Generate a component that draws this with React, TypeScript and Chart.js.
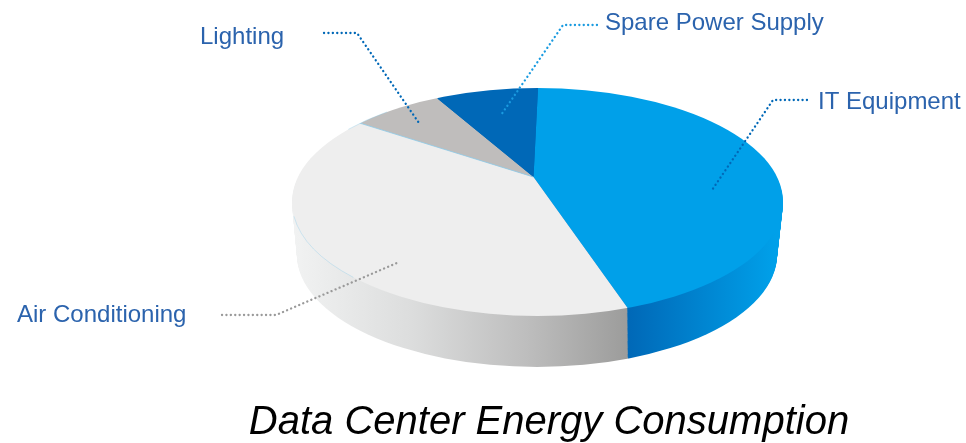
import React, { useEffect, useRef } from "react";
import { Chart, registerables } from "chart.js";

Chart.register(...registerables);

const categories = ["IT Equipment", "Air Conditioning", "Lighting", "Spare Power Supply"];
const shares = [44.5, 39.5, 7.4, 8.6];
const faceColors = ["#00a0e9", "#eeeeee", "#bfbdbc", "#0068b7"];
const chartTitle = "Data Center Energy Consumption";
const startRotation = 1.35;

// Projection of the disc onto the page
const APEX = { x: 533.5, y: 177 };
const TOP = { cx: 537.5, cy: 202, rx: 245.5, ry: 114 };
const BOTTOM = { cx: 537, cy: 255, rx: 240, ry: 112 };
const SQUASH = TOP.ry / TOP.rx;
const COVER_RADIUS = 320;

const callouts = [
  { text: categories[0], tx: 818, ty: 109, color: "#0068b7", path: [[807, 100], [773, 100], [712, 190]] },
  { text: categories[1], tx: 17, ty: 322, color: "#9a9a9a", path: [[222, 315], [276, 315], [397, 263]] },
  { text: categories[2], tx: 200, ty: 44, color: "#0068b7", path: [[324, 33], [357, 33], [419, 123]] },
  { text: categories[3], tx: 605, ty: 30, color: "#1a9be0", path: [[597, 25], [563, 25], [501, 115]] },
];

function applyProjection(ctx: CanvasRenderingContext2D, arc: any, dx: number, dy: number) {
  const s = COVER_RADIUS / arc.outerRadius;
  ctx.translate(APEX.x + dx, APEX.y + dy);
  ctx.scale(s, s * SQUASH);
  ctx.translate(-arc.x, -arc.y);
}

const pie3d = {
  id: "pie3d",
  beforeDatasetsDraw(chart: any) {
    const ctx: CanvasRenderingContext2D = chart.ctx;
    const arcs = chart.getDatasetMeta(0).data;
    const grayGrad = ctx.createLinearGradient(295, 0, 628, 0);
    grayGrad.addColorStop(0, "#f1f2f2");
    grayGrad.addColorStop(0.35, "#dcdddd");
    grayGrad.addColorStop(0.7, "#bdbdbd");
    grayGrad.addColorStop(1, "#9c9c9b");
    const blueGrad = ctx.createLinearGradient(628, 0, 775, 0);
    blueGrad.addColorStop(0, "#0068b7");
    blueGrad.addColorStop(0.5, "#0084d0");
    blueGrad.addColorStop(1, "#00a0e9");
    const sideFill = [blueGrad, grayGrad, grayGrad, blueGrad];
    const depth = BOTTOM.cy - TOP.cy;
    for (let d = depth; d >= 1; d--) {
      const t = d / depth;
      ctx.save();
      ctx.beginPath();
      ctx.ellipse(
        TOP.cx + (BOTTOM.cx - TOP.cx) * t,
        TOP.cy + (BOTTOM.cy - TOP.cy) * t,
        TOP.rx + (BOTTOM.rx - TOP.rx) * t,
        TOP.ry + (BOTTOM.ry - TOP.ry) * t,
        0, 0, Math.PI * 2
      );
      ctx.clip();
      arcs.forEach((arc: any, i: number) => {
        ctx.save();
        applyProjection(ctx, arc, t * 2.2, d);
        ctx.beginPath();
        ctx.moveTo(arc.x, arc.y);
        ctx.arc(arc.x, arc.y, arc.outerRadius, arc.startAngle, arc.endAngle);
        ctx.closePath();
        ctx.restore();
        ctx.fillStyle = sideFill[i];
        ctx.fill();
      });
      ctx.restore();
    }
    ctx.save();
    ctx.beginPath();
    ctx.ellipse(TOP.cx, TOP.cy, TOP.rx, TOP.ry, 0, 0, Math.PI * 2);
    ctx.clip();
    applyProjection(ctx, arcs[0], 0, 0);
  },
  afterDatasetsDraw(chart: any) {
    const ctx: CanvasRenderingContext2D = chart.ctx;
    const arcs = chart.getDatasetMeta(0).data;
    ctx.restore();
    // fine light-blue seams of the original artwork
    const seam = arcs[2];
    ctx.save();
    ctx.beginPath();
    ctx.ellipse(TOP.cx, TOP.cy, TOP.rx, TOP.ry, 0, 0, Math.PI * 2);
    ctx.clip();
    ctx.save();
    applyProjection(ctx, seam, 0, 0);
    ctx.beginPath();
    ctx.moveTo(seam.x, seam.y);
    ctx.lineTo(
      seam.x + Math.cos(seam.startAngle) * seam.outerRadius,
      seam.y + Math.sin(seam.startAngle) * seam.outerRadius
    );
    ctx.restore();
    ctx.strokeStyle = "#8ecbea";
    ctx.lineWidth = 0.8;
    ctx.stroke();
    ctx.restore();
    ctx.strokeStyle = "rgba(130,200,235,0.55)";
    ctx.lineWidth = 0.6;
    ctx.beginPath();
    ctx.ellipse(TOP.cx, TOP.cy, TOP.rx, TOP.ry, 0, Math.PI * 0.77, Math.PI * 0.96);
    ctx.stroke();
    ctx.beginPath();
    ctx.ellipse(TOP.cx, TOP.cy, TOP.rx, TOP.ry, 0, Math.PI * 1.22, Math.PI * 1.29);
    ctx.stroke();
    // callouts
    callouts.forEach((c) => {
      ctx.save();
      ctx.strokeStyle = c.color;
      ctx.lineWidth = 2.3;
      ctx.lineCap = "round";
      ctx.setLineDash([0.1, 4.3]);
      ctx.beginPath();
      c.path.forEach(([x, y], i) => (i ? ctx.lineTo(x, y) : ctx.moveTo(x, y)));
      ctx.stroke();
      ctx.restore();
      ctx.save();
      ctx.font = "24px 'Liberation Sans'";
      ctx.fillStyle = "#2b63ad";
      ctx.textBaseline = "alphabetic";
      ctx.textAlign = "left";
      ctx.fillText(c.text, c.tx, c.ty);
      ctx.restore();
    });
  },
};

export default function App() {
  const ref = useRef<HTMLCanvasElement | null>(null);
  useEffect(() => {
    const chart = new Chart(ref.current as HTMLCanvasElement, {
      type: "pie",
      data: {
        labels: categories,
        datasets: [
          {
            data: shares,
            backgroundColor: faceColors,
            borderWidth: 0,
            clip: false,
          } as any,
        ],
      },
      options: {
        responsive: false,
        animation: false,
        rotation: startRotation,
        layout: { padding: { left: 132, top: 0, right: 0, bottom: 0 } },
        plugins: {
          legend: { display: false },
          tooltip: { enabled: false },
          title: {
            display: true,
            text: chartTitle,
            position: "bottom",
            color: "#000000",
            font: { family: "'Liberation Sans'", size: 40, style: "italic", weight: "normal" },
            padding: { top: 0, bottom: -4 },
          },
        },
      },
      plugins: [pie3d],
    } as any);
    return () => chart.destroy();
  }, []);
  return (
    <div style={{ position: "fixed", left: 0, top: 0, width: 966, height: 443, background: "#fff" }}>
      <canvas ref={ref} width={966} height={443} style={{ display: "block" }} />
    </div>
  );
}
